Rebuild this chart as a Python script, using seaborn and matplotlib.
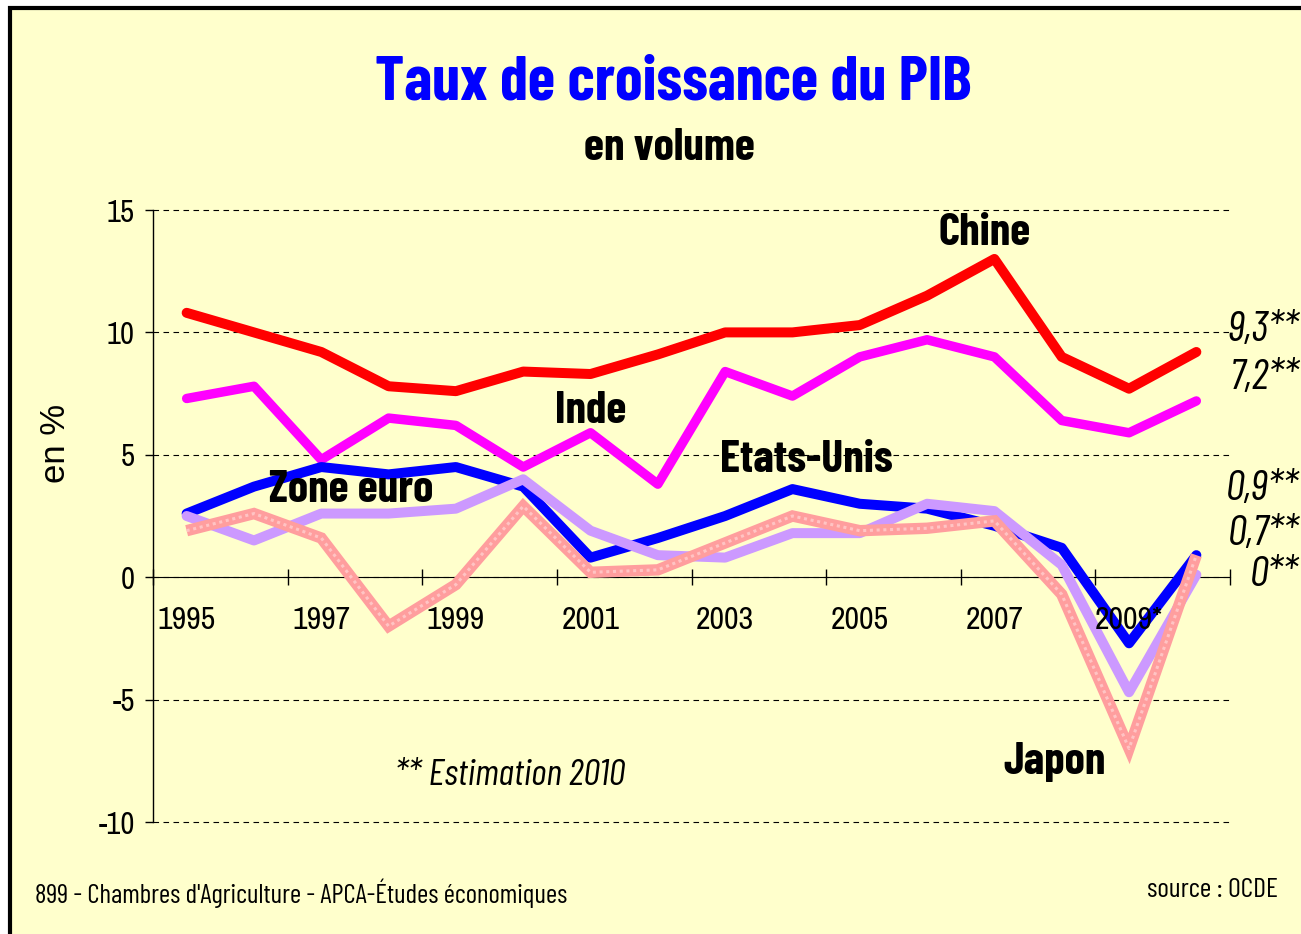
import matplotlib
matplotlib.use("Agg")
import matplotlib.pyplot as plt
from matplotlib.patches import Rectangle
from matplotlib.ticker import FixedLocator, FixedFormatter, NullFormatter
import seaborn as sns
import pandas as pd
import numpy as np

# données
annees = list(range(1995, 2011))
chine = [10.8, 10.0, 9.2, 7.8, 7.6, 8.4, 8.3, 9.1, 10.0, 10.0, 10.3, 11.5, 13.0, 9.0, 7.7, 9.2]
inde = [7.3, 7.8, 4.8, 6.5, 6.2, 4.5, 5.9, 3.8, 8.4, 7.4, 9.0, 9.7, 9.0, 6.4, 5.9, 7.2]
etats_unis = [2.6, 3.7, 4.5, 4.2, 4.5, 3.7, 0.8, 1.6, 2.5, 3.6, 3.0, 2.8, 2.1, 1.2, -2.7, 0.9]
zone_euro = [2.5, 1.5, 2.6, 2.6, 2.8, 4.0, 1.9, 0.9, 0.8, 1.8, 1.8, 3.0, 2.7, 0.5, -4.7, 0.1]
japon = [1.9, 2.6, 1.6, -2.0, -0.3, 2.9, 0.2, 0.3, 1.4, 2.5, 1.9, 2.0, 2.3, -0.7, -7.0, 0.9]

series = [
    ("Chine", chine, "#FF0000", 7.2),
    ("Inde", inde, "#FF00FF", 6.8),
    ("Etats-Unis", etats_unis, "#0000FF", 7.2),
    ("Zone euro", zone_euro, "#CC99FF", 7.2),
    ("Japon", japon, "#FF9E9E", 8.2),
]

labels_x = [1995, 1997, 1999, 2001, 2003, 2005, 2007, 2009]
labels_txt = ["1995", "1997", "1999", "2001", "2003", "2005", "2007", "2009*"]
estimations = ["9,3**", "7,2**", "0,9**", "0,7**", "0**"]

NARROW = ["Barlow Condensed", "DejaVu Sans"]
jaune = "#FFFFCC"

fig = plt.figure(figsize=(13.01, 9.34), dpi=100, facecolor="white")
fig.patches.append(Rectangle((10 / 1301, -0.1), 1.1, 1 - 8 / 934 + 0.1,
                             transform=fig.transFigure, facecolor=jaune,
                             edgecolor="black", linewidth=3, zorder=-5))

ax = fig.add_axes([153 / 1301, 1 - 822 / 934, (1230 - 153) / 1301, (822 - 210) / 934])
ax.set_facecolor("none")

for nom, vals, couleur, lw in series:
    df = pd.DataFrame({"annee": annees, "valeur": vals})
    sns.lineplot(data=df, x="annee", y="valeur", color=couleur, linewidth=lw,
                 ax=ax, solid_capstyle="round" if nom != "Japon" else "butt",
                 solid_joinstyle="round" if nom != "Japon" else "miter", zorder=3)

# texture pointillée sur la ligne du Japon
ax.plot(annees, japon, color="#FFC4C4", linewidth=2.2, linestyle=(0, (1, 1.2)), zorder=4)

ax.set_xlim(1994.5, 2010.5)
ax.set_ylim(-10, 15)
ax.yaxis.set_major_locator(FixedLocator([-10, -5, 0, 5, 10, 15]))
ax.yaxis.set_major_formatter(FixedFormatter(["-10", "-5", "0", "5", "10", "15"]))
ax.tick_params(axis="y", direction="out", length=6, width=1, pad=7,
               labelsize=22, labelfontfamily="Archivo Narrow")

ax.xaxis.set_major_locator(FixedLocator(np.arange(1994.5, 2011, 2)))
ax.xaxis.set_major_formatter(NullFormatter())
ax.xaxis.set_minor_locator(FixedLocator(labels_x))
ax.xaxis.set_minor_formatter(FixedFormatter(labels_txt))
ax.tick_params(axis="x", which="major", direction="inout", length=12, width=1)
ax.tick_params(axis="x", which="minor", length=0, pad=21, labelsize=23,
               labelfontfamily="Archivo Narrow")

for s in ["top", "right"]:
    ax.spines[s].set_visible(False)
ax.spines["bottom"].set_position(("data", 0))
ax.spines["bottom"].set_zorder(2)
ax.spines["left"].set_linewidth(1)

ax.grid(axis="y", color="black", linestyle=(0, (5, 4)), linewidth=0.8)
ax.grid(axis="x", visible=False)
for gl in ax.get_ygridlines():
    gl.set_clip_on(False)
ax.set_axisbelow(True)
ax.xaxis.set_zorder(4.5)
ax.set_xlabel("")
ax.set_ylabel("en %", fontsize=25, family=["Liberation Sans", "DejaVu Sans"])
ax.yaxis.set_label_coords(-0.075, 0.619)

# étiquettes des séries
lab = dict(family=NARROW, fontsize=33, fontweight="bold", ha="center", va="center", zorder=6)
ax.text(2006.85, 14.05, "Chine", **lab)
ax.text(2001.0, 6.8, "Inde", **lab)
ax.text(2004.2, 4.8, "Etats-Unis", **lab)
ax.text(1997.45, 3.55, "Zone euro", **lab)
ax.text(2007.9, -7.55, "Japon", **lab)

ax.text(1999.8, -8.1, "** Estimation 2010", family=NARROW, fontsize=27,
        style="italic", ha="center", va="center")

est_y = [330, 378, 490, 535, 575]
for txt, y in zip(estimations, est_y):
    fig.text(1299 / 1301, 1 - y / 934, txt, family=NARROW, fontsize=31,
             style="italic", ha="right", va="center")

fig.text(673 / 1301, 1 - 83 / 934, "Taux de croissance du PIB", family=NARROW,
         fontsize=45, fontweight="bold", color="#0000FF", ha="center", va="center")
fig.text(669 / 1301, 1 - 148 / 934, "en volume", family=NARROW,
         fontsize=33, fontweight="bold", ha="center", va="center")

fig.text(35 / 1301, 1 - 893 / 934, "899 - Chambres d'Agriculture - APCA-Études économiques",
         family=NARROW, fontsize=19.5, ha="left", va="center")
fig.text(1278 / 1301, 1 - 890 / 934, "source : OCDE",
         family=NARROW, fontsize=20, ha="right", va="center")

fig.savefig("out.png", dpi=100, facecolor="white")
